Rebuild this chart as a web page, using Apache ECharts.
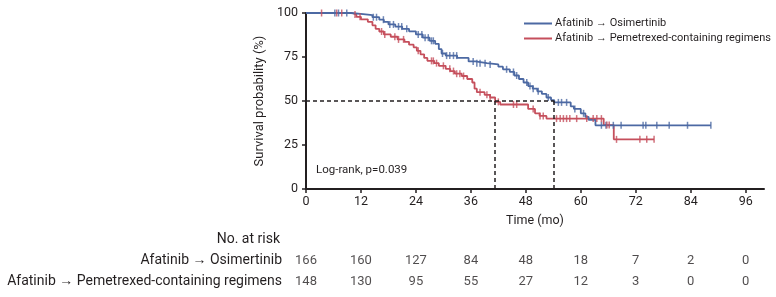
<!DOCTYPE html>
<html>
<head>
<meta charset="utf-8">
<script src="https://cdn.jsdelivr.net/npm/echarts@6/dist/echarts.min.js"></script>
<style>
  html, body { margin: 0; padding: 0; background: #fff; }
  #chart { width: 776px; height: 297px; }
</style>
</head>
<body>
<div id="chart"></div>
<script>
// Kaplan-Meier steps (time in months, survival %)
const osimTimes = [0, 9.8, 12.5, 14.5, 16, 17, 18, 19.5, 21, 22.5, 24, 25.5, 27, 28.2, 29, 29.6, 30.5, 33, 35.5, 37, 39.5, 42, 43, 44.5, 45.5, 46.5, 47.5, 48.5, 49.5, 50.5, 51.5, 52.5, 53.5, 54.2, 57.8, 58.5, 60, 61, 61.7, 63.2, 88.4]
const osimSurv  = [100, 99.4, 98.8, 97.6, 96.2, 95, 93.5, 92.3, 91, 89.6, 87.8, 86, 84.2, 82.5, 79.5, 77, 75.8, 74.5, 72.5, 71.5, 70.8, 69.5, 68, 66.5, 64.5, 62.5, 60.5, 58.5, 57, 55.5, 54, 52, 50.5, 49.2, 47, 45.5, 43, 41, 39.3, 36.2, 36.2]
const osimCensor = [6.3, 7.1, 8.9, 14.7, 15.4, 16.9, 18.3, 19.1, 20.2, 20.9, 22, 24.5, 25.3, 26, 26.7, 27.4, 27.8, 29.8, 30.7, 31.4, 32.2, 32.9, 36.5, 37.3, 38, 39.1, 40.2, 43.8, 45.3, 46, 48.2, 48.9, 49.6, 50.7, 52.9, 55.1, 55.8, 56.9, 58.7, 60.6, 64.5, 65.5, 67.1, 68.8, 73.6, 74.2, 76.6, 79.3, 83.3, 88.4]

const pemTimes = [0, 10, 11, 12, 13.5, 14.5, 15.2, 16, 17, 18.5, 20, 21.5, 22.5, 23.5, 24.2, 25, 25.8, 26.5, 28, 29, 30.5, 31.5, 32.5, 34, 35.2, 36.3, 36.8, 37.3, 39, 40.2, 41.3, 42.4, 48.5, 50, 51, 52.5, 65, 67.2, 76]
const pemSurv  = [100, 99.2, 97.8, 96.4, 95, 93, 91, 89.5, 87.8, 86.5, 85, 83.6, 82, 80.5, 78.5, 76.5, 74.5, 72.8, 71.5, 70, 68.3, 67, 65.5, 64.2, 62.5, 60.5, 57, 55, 53.5, 52, 49.5, 48, 45.5, 43, 41.5, 40, 36.3, 28.2, 28.2]
const pemCensor = [3.4, 6.7, 7.8, 10.7, 11.8, 16.5, 17.2, 19.4, 20.2, 21.3, 24.5, 27.4, 27.8, 28.5, 30, 31.4, 32.2, 32.9, 33.6, 34.4, 38, 39.5, 40.2, 42, 45.3, 46, 49.6, 51.1, 51.8, 54.7, 55.5, 56.2, 56.9, 57.6, 59.1, 61.3, 62.7, 63.5, 64.5, 65.7, 66.2, 67.8, 72.9, 74.4, 76]

const medianOsim = 54.2
const medianPem  = 41.3

const xTicks = [0, 12, 24, 36, 48, 60, 72, 84, 96]
const riskOsim = [166, 160, 127, 84, 48, 18, 7, 2, 0]
const riskPem  = [148, 130, 95, 55, 27, 12, 3, 0, 0]

const nameOsim = 'Afatinib \u2192 Osimertinib'
const namePem  = 'Afatinib \u2192 Pemetrexed-containing regimens'

const blue = '#4c69a3'
const red  = '#c54f5c'
const ink  = '#231f20'
const font = 'Roboto, sans-serif'

function survAt(times, surv, t) {
  let s = surv[0]
  times.forEach((x, i) => { if (x <= t) s = surv[i] })
  return s
}

const chart = echarts.init(document.getElementById('chart'))

const dash = { color: ink, type: [4, 3], width: 1.5 }

chart.setOption({
  animation: false,
  textStyle: { fontFamily: font, color: ink },
  grid: [
    { left: 306, right: 12, top: 13, height: 176 },
    { left: 306, right: 12, top: 250, height: 42 },
  ],
  legend: {
    orient: 'vertical',
    left: 519,
    top: 13,
    itemGap: 4,
    itemWidth: 28,
    itemHeight: 2,
    icon: 'rect',
    data: [nameOsim, namePem],
    textStyle: { fontFamily: font, fontSize: 11, color: ink, padding: [0, 0, 0, -2] },
  },
  xAxis: [{
    type: 'value',
    min: 0,
    max: 100,
    interval: 12,
    name: 'Time (mo)',
    nameLocation: 'middle',
    nameGap: 25,
    nameTextStyle: { fontFamily: font, fontSize: 12.5, color: ink },
    splitLine: { show: false },
    axisLine: { lineStyle: { color: ink, width: 2 } },
    axisTick: { length: 4, customValues: xTicks, lineStyle: { color: ink, width: 1.5 } },
    axisLabel: { customValues: xTicks, margin: 6, fontFamily: font, fontSize: 12.5, color: ink },
  }, {
    type: 'value',
    gridIndex: 1,
    min: 0,
    max: 100,
    show: false,
  }],
  yAxis: [{
    type: 'value',
    min: 0,
    max: 100,
    interval: 25,
    name: 'Survival probability (%)',
    nameLocation: 'middle',
    nameGap: 38,
    nameTextStyle: { fontFamily: font, fontSize: 13, color: ink },
    splitLine: { show: false },
    axisLine: { show: true, lineStyle: { color: ink, width: 2 } },
    axisTick: { show: true, length: 4, lineStyle: { color: ink, width: 1.5 } },
    axisLabel: { margin: 8, fontFamily: font, fontSize: 12.5, color: ink },
  }, {
    type: 'category',
    gridIndex: 1,
    inverse: true,
    data: [nameOsim, namePem],
    axisLine: { show: false },
    axisTick: { show: false },
    axisLabel: { margin: 24, fontFamily: font, fontSize: 14, color: ink },
  }],
  graphic: [{
    type: 'text',
    left: 316,
    top: 164,
    style: { text: 'Log-rank, p=0.039', font: '11.5px ' + font, fill: ink },
  }, {
    type: 'text',
    right: 496,
    top: 232,
    style: { text: 'No. at risk', font: '14px ' + font, fill: ink },
  }],
  series: [{
    name: nameOsim,
    type: 'line',
    step: 'end',
    showSymbol: false,
    lineStyle: { color: blue, width: 1.8 },
    itemStyle: { color: blue },
    data: osimTimes.map((t, i) => [t, osimSurv[i]]),
    z: 3,
  }, {
    name: namePem,
    type: 'line',
    step: 'end',
    showSymbol: false,
    lineStyle: { color: red, width: 1.8 },
    itemStyle: { color: red },
    data: pemTimes.map((t, i) => [t, pemSurv[i]]),
    z: 2,
    markLine: {
      silent: true,
      symbol: 'none',
      label: { show: false },
      lineStyle: dash,
      data: [
        [{ coord: [0, 50] }, { coord: [medianOsim, 50] }],
        [{ coord: [medianPem, 50] }, { coord: [medianPem, 0] }],
        [{ coord: [medianOsim, 50] }, { coord: [medianOsim, 0] }],
      ],
    },
  }, {
    type: 'scatter',
    symbol: 'rect',
    symbolSize: [1.5, 7],
    itemStyle: { color: blue },
    data: osimCensor.map(t => [t, survAt(osimTimes, osimSurv, t)]),
    z: 4,
  }, {
    type: 'scatter',
    symbol: 'rect',
    symbolSize: [1.5, 7],
    itemStyle: { color: red },
    data: pemCensor.map(t => [t, survAt(pemTimes, pemSurv, t)]),
    z: 4,
  }, {
    type: 'scatter',
    xAxisIndex: 1,
    yAxisIndex: 1,
    symbolSize: 0,
    label: { show: true, position: 'inside', fontFamily: font, fontSize: 13, color: ink, formatter: p => p.value[2] },
    data: xTicks.map((t, i) => [t, nameOsim, riskOsim[i]]),
  }, {
    type: 'scatter',
    xAxisIndex: 1,
    yAxisIndex: 1,
    symbolSize: 0,
    label: { show: true, position: 'inside', fontFamily: font, fontSize: 13, color: ink, formatter: p => p.value[2] },
    data: xTicks.map((t, i) => [t, namePem, riskPem[i]]),
  }],
})
</script>
</body>
</html>
